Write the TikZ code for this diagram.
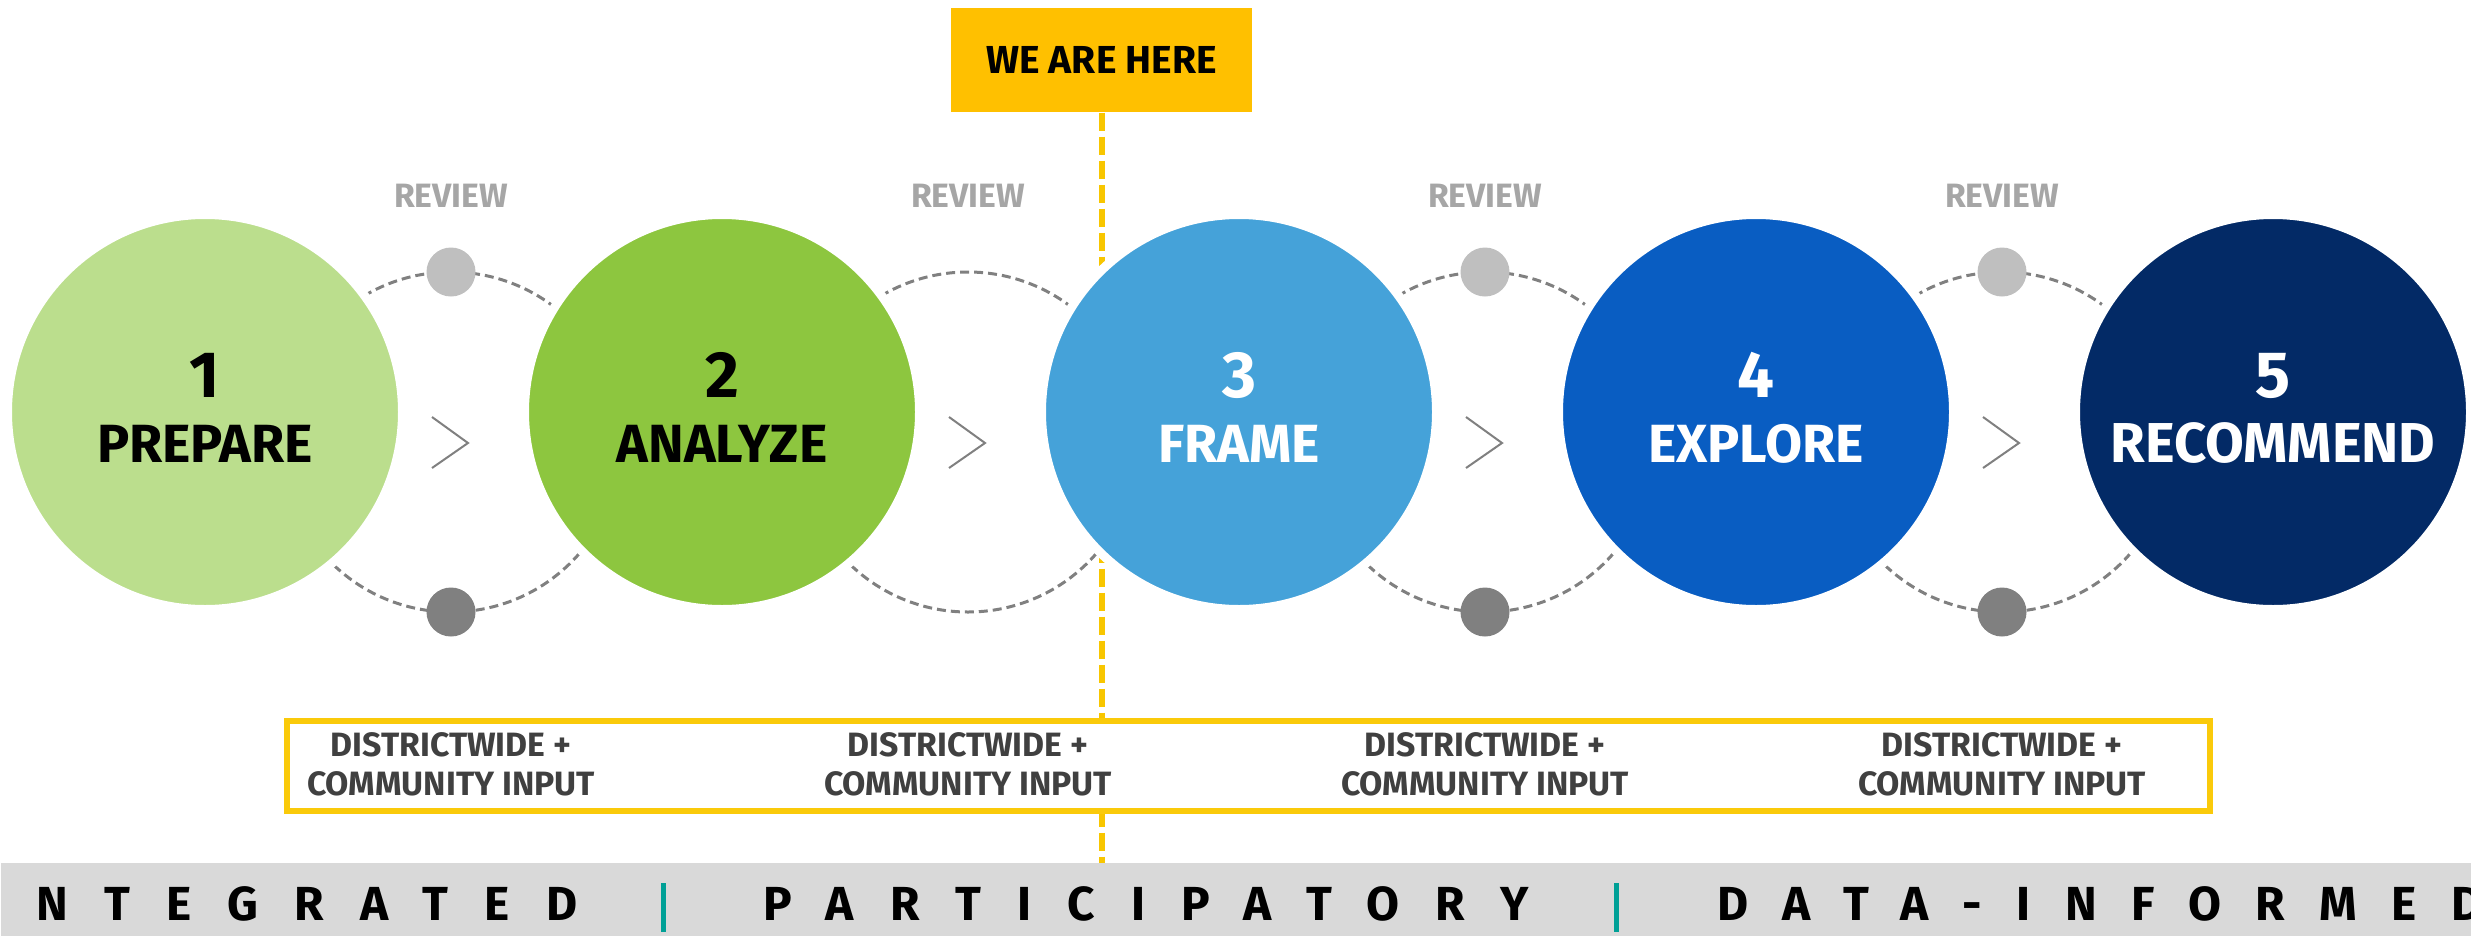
\documentclass[tikz,border=0pt]{standalone}
\usepackage{fontspec}
\setmainfont{Fira Sans}
\usetikzlibrary{positioning}

\definecolor{prepare}{RGB}{187,222,141}
\definecolor{analyze}{RGB}{141,198,63}
\definecolor{frame}{RGB}{69,162,217}
\definecolor{explore}{RGB}{9,93,194}
\definecolor{recommend}{RGB}{3,42,102}
\definecolor{heregold}{RGB}{255,192,0}
\definecolor{lineyellow}{RGB}{248,198,0}
\definecolor{inputyellow}{RGB}{250,202,10}
\definecolor{reviewgray}{RGB}{166,166,166}
\definecolor{ringgray}{RGB}{128,128,128}
\definecolor{lightknob}{RGB}{191,191,191}
\definecolor{inputgray}{RGB}{64,64,64}
\definecolor{bandgray}{RGB}{217,217,217}
\definecolor{septeal}{RGB}{0,160,150}

\begin{document}
\begin{tikzpicture}[
    every node/.style={font=\bfseries, inner sep=0pt},
    phase/.style={circle, draw=white, line width=0.09cm, minimum size=3.95cm},
    num/.style={anchor=base, font=\bfseries\fontsize{18.6}{20}\selectfont},
    title/.style={anchor=base, font=\bfseries\fontsize{15.3}{17}\selectfont},
    review/.style={anchor=base, text=reviewgray, font=\bfseries\fontsize{9.6}{11}\selectfont},
    ring/.style={draw=ringgray, line width=0.03cm, dash pattern=on 0.09cm off 0.05cm},
    chevron/.style={draw=ringgray, line width=0.02cm},
    knob/.style={circle, minimum size=0.49cm},
    input/.style={align=center, text=inputgray, font=\bfseries\fontsize{9.6}{11.1}\selectfont},
    motto/.style={anchor=base west, font=\bfseries\fontsize{13.6}{15}\selectfont\addfontfeature{LetterSpace=#1}},
    motto/.default=76,
  ]
  \useasboundingbox (0,0) rectangle (24.71,9.37);
  \clip (0,0) rectangle (24.71,9.37);

  % Draw the band and the marker
  \node[fill=bandgray, minimum width=24.71cm, minimum height=0.73cm, anchor=south west] (band) at (0,0) {};
  \node[fill=heregold, minimum width=3.01cm, minimum height=1.04cm, font=\bfseries\fontsize{11.1}{13}\selectfont] (here) at (11.015,8.77) {WE ARE HERE};
  \draw[lineyellow, line width=0.06cm, dash pattern=on 0.18cm off 0.06cm] (here.south) -- (here.south |- band.north);

  % Draw the review rings
  \draw[ring] (4.51,4.95) circle (1.70);
  \draw[ring] (9.68,4.95) circle (1.70);
  \draw[ring] (14.85,4.95) circle (1.70);
  \draw[ring] (20.02,4.95) circle (1.70);

  % Draw the phases
  \node[phase, fill=prepare] (p1) at (2.05,5.25) {};
  \node[phase, fill=analyze] (p2) at (7.22,5.25) {};
  \node[phase, fill=frame] (p3) at (12.39,5.25) {};
  \node[phase, fill=explore] (p4) at (17.56,5.25) {};
  \node[phase, fill=recommend] (p5) at (22.73,5.25) {};

  \node[num] (n1) at (2.05,5.40) {1};
  \node[title] (t1) at (2.05,4.75) {PREPARE};
  \node[num] (n2) at (7.22,5.40) {2};
  \node[title] (t2) at (7.22,4.75) {ANALYZE};
  \node[num, text=white] (n3) at (12.39,5.40) {3};
  \node[title, text=white] (t3) at (12.39,4.75) {FRAME};
  \node[num, text=white] (n4) at (17.56,5.40) {4};
  \node[title, text=white] (t4) at (17.56,4.75) {EXPLORE};
  \node[num, text=white] (n5) at (22.73,5.40) {5};
  \node[title, text=white, font=\bfseries\fontsize{16}{17}\selectfont] (t5) at (22.73,4.75) {RECOMMEND};

  % Draw the chevrons
  \draw[chevron] (4.32,5.20) -- (4.68,4.94) -- (4.32,4.69);
  \draw[chevron] (9.49,5.20) -- (9.85,4.94) -- (9.49,4.69);
  \draw[chevron] (14.66,5.20) -- (15.02,4.94) -- (14.66,4.69);
  \draw[chevron] (19.83,5.20) -- (20.19,4.94) -- (19.83,4.69);

  % Draw the knobs
  \node[knob, fill=lightknob] (k1) at (4.51,6.65) {};
  \node[knob, fill=ringgray] (d1) at (4.51,3.25) {};
  \node[knob, fill=lightknob] (k3) at (14.85,6.65) {};
  \node[knob, fill=ringgray] (d3) at (14.85,3.25) {};
  \node[knob, fill=lightknob] (k4) at (20.02,6.65) {};
  \node[knob, fill=ringgray] (d4) at (20.02,3.25) {};

  \node[review] (r1) at (4.51,7.30) {REVIEW};
  \node[review] (r2) at (9.68,7.30) {REVIEW};
  \node[review] (r3) at (14.85,7.30) {REVIEW};
  \node[review] (r4) at (20.02,7.30) {REVIEW};

  % Draw the input box
  \node[draw=inputyellow, fill=white, line width=0.06cm, minimum width=19.23cm, minimum height=0.90cm] (inputs) at (12.485,1.71) {};
  \node[input] (i1) at (4.51,1.73) {DISTRICTWIDE +\\COMMUNITY INPUT};
  \node[input] (i2) at (9.68,1.73) {DISTRICTWIDE +\\COMMUNITY INPUT};
  \node[input] (i3) at (14.85,1.73) {DISTRICTWIDE +\\COMMUNITY INPUT};
  \node[input] (i4) at (20.02,1.73) {DISTRICTWIDE +\\COMMUNITY INPUT};

  % Draw the motto
  \node[motto] (m1) at (0.36,0.17) {NTEGRATED};
  \node[motto] (m2) at (7.63,0.17) {PARTICIPATORY};
  \node[motto=72] (m3) at (17.17,0.17) {DATA-INFORMED};
  \fill[septeal] (6.605,0.05) rectangle (6.655,0.54);
  \fill[septeal] (16.135,0.05) rectangle (16.185,0.54);
\end{tikzpicture}
\end{document}
